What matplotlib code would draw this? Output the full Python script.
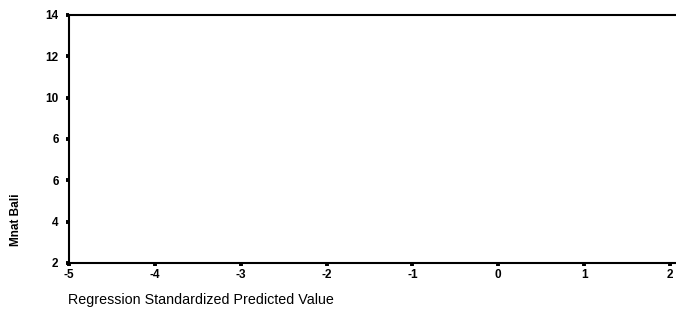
import matplotlib.pyplot as plt

# axis ticks as printed on the scanned SPSS chart
x_ticks = [-5, -4, -3, -2, -1, 0, 1, 2]
x_labels = ["-5", "-4", "-3", "-2", "-1", "0", "1", "2"]
y_ticks = [2, 4, 6, 8, 10, 12, 14]
y_labels = ["2", "4", "6", "6", "10", "12", "14"]

plt.rcParams['font.family'] = ['Liberation Sans', 'DejaVu Sans']

fig = plt.figure(figsize=(6.76, 3.18), dpi=100)
# axes run to the right edge of the image (scan is cropped there)
ax = fig.add_axes([0.1021, 0.1730, 0.8979, 0.7799])

ax.set_xlim(-5, 2.07)
ax.set_ylim(2, 14)
ax.set_xticks(x_ticks)
ax.set_xticklabels(x_labels, fontweight='bold', fontsize=8.5)
ax.set_yticks(y_ticks)
ax.set_yticklabels(y_labels, fontweight='bold', fontsize=8.5)
ax.tick_params(axis='y', direction='out', length=2.5, width=2.8, pad=5, colors='black')
ax.tick_params(axis='x', direction='out', length=2.5, width=2.8, pad=1.5, colors='black')

ax.spines['right'].set_visible(False)
for s in ['left', 'bottom', 'top']:
    ax.spines[s].set_linewidth(1.5)
ax.spines['left'].set_zorder(5)

fig.text(0.101, 0.057, "Regression Standardized Predicted Value",
         fontsize=10.3, ha='left', va='center')
fig.text(0.024, 0.308, "Mnat Bali", rotation=90, fontsize=8.5,
         fontweight='bold', ha='center', va='center')

fig.savefig("out.png", dpi=100)
